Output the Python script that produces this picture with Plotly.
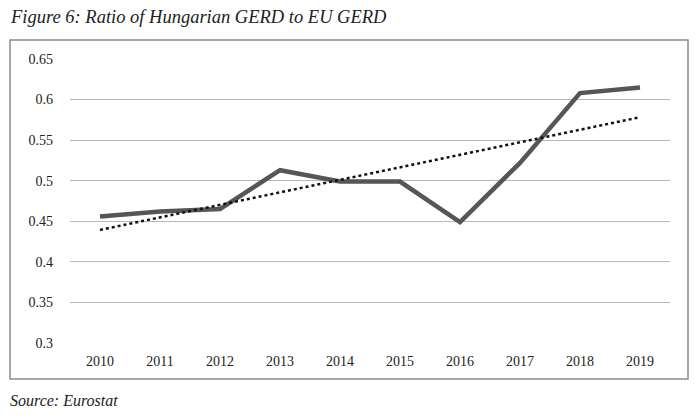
import numpy as np
import plotly.graph_objects as go

years = ["2010", "2011", "2012", "2013", "2014", "2015", "2016", "2017", "2018", "2019"]
ratio = [0.456, 0.462, 0.465, 0.513, 0.499, 0.499, 0.449, 0.522, 0.608, 0.615]
y_ticks = [0.3, 0.35, 0.4, 0.45, 0.5, 0.55, 0.6, 0.65]
y_tick_text = ["0.3", "0.35", "0.4", "0.45", "0.5", "0.55", "0.6", "0.65"]

# linear trendline (least squares) from the data
idx = np.arange(len(ratio))
slope, intercept = np.polyfit(idx, ratio, 1)
trend = list(slope * idx + intercept)

# page body has an 8px margin, so the figure is 8px smaller and offset
OFF = 8
W, H = 700 - OFF, 419 - OFF
ml, mr, mt, mb = 70 - OFF, 30, 59 - OFF, 76
pw, ph = W - ml - mr, H - mt - mb

def px_x(x):
    return (x - OFF - ml) / pw

def px_y(y):
    return (H - mb - (y - OFF)) / ph

serif = "Liberation Serif"
ink = "#222222"

fig = go.Figure()
fig.add_trace(go.Scatter(x=years, y=ratio, mode="lines",
                         line=dict(color="#565656", width=4.5), showlegend=False))
fig.add_trace(go.Scatter(x=years, y=trend, mode="lines",
                         line=dict(color="#111111", width=2.5, dash="dot"), showlegend=False))

fig.update_layout(
    width=W, height=H,
    margin=dict(l=ml, r=mr, t=mt, b=mb),
    paper_bgcolor="white", plot_bgcolor="white",
    font=dict(family=serif, size=14, color=ink),
    xaxis=dict(type="category", range=[-0.5, 9.5], showgrid=False, showline=False,
               zeroline=False, ticks="", ticklabelstandoff=8,
               tickfont=dict(family=serif, size=14, color=ink)),
    yaxis=dict(range=[0.3, 0.65], tickvals=y_ticks, ticktext=y_tick_text,
               showgrid=True, gridcolor="#b8b8b8", gridwidth=1, zeroline=False,
               showline=False, ticks="", ticklabelstandoff=16,
               tickfont=dict(family=serif, size=14, color=ink)),
    shapes=[dict(type="rect", xref="paper", yref="paper",
                 x0=px_x(10), x1=px_x(688), y0=px_y(379), y1=px_y(40),
                 line=dict(color="#8a8a8a", width=1.5), layer="below")],
    annotations=[
        dict(text="<i>Figure 6: Ratio of Hungarian GERD to EU GERD</i>",
             xref="paper", yref="paper", x=px_x(8), y=px_y(17),
             xanchor="left", yanchor="middle", showarrow=False,
             font=dict(family=serif, size=18.5, color=ink)),
        dict(text="<i>Source: Eurostat</i>",
             xref="paper", yref="paper", x=px_x(8), y=px_y(400),
             xanchor="left", yanchor="middle", showarrow=False,
             font=dict(family=serif, size=16, color=ink)),
    ],
)

fig.write_html("out.html")
